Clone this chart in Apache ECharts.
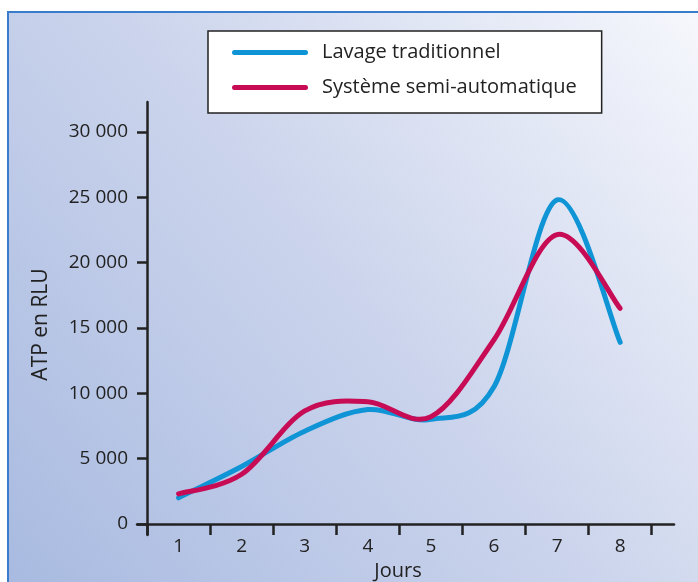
<!DOCTYPE html>
<html>
<head>
<meta charset="utf-8">
<script src="https://cdn.jsdelivr.net/npm/echarts@6/dist/echarts.min.js"></script>
<style>
  html, body { margin: 0; padding: 0; background: #ffffff; }
  #chart { width: 698px; height: 582px; }
</style>
</head>
<body>
<div id="chart"></div>
<script>
// Jours (x) and ATP readings in RLU for each washing method
const days = [1, 2, 3, 4, 5, 6, 7, 8];
const lavageTraditionnel = [2000, 4400, 7100, 8750, 8000, 10500, 24800, 13900];
const systemeSemiAuto = [2300, 3800, 8650, 9350, 8200, 14100, 22150, 16500];
const yTicks = [0, 5000, 10000, 15000, 20000, 25000, 30000];
const seriesNames = ['Lavage traditionnel', 'Système semi-automatique'];
const seriesColors = ['#0f94d6', '#c70b55'];

// Days sit in the middle of each band; band edges fall on whole numbers
const toBand = d => d - 0.5;
const bandEdges = [0].concat(days.map(d => d));
const pairs = vals => days.map((d, i) => [toBand(d), vals[i]]);

const fmtThousands = v => {
  if (v === 0) return '0';
  const s = String(v);
  return s.slice(0, s.length - 3) + ' ' + s.slice(-3);
};

// rounded bar used as the legend key
const capsule = 'path://M2.5,0 L73.5,0 A2.5,2.5 0 0 1 73.5,5 L2.5,5 A2.5,2.5 0 0 1 2.5,0 Z';

// Catmull-Rom curve through the points, mapped to pixels by the axes
function splineSeries(name, values, color, z) {
  const data = pairs(values);
  return {
    name: name,
    type: 'custom',
    z: z,
    itemStyle: { color: color },
    encode: { x: 0, y: 1 },
    data: data,
    renderItem: function (params, api) {
      if (params.dataIndex !== 0) return null;
      const p = data.map(d => api.coord(d));
      const n = p.length;
      let d = 'M' + p[0][0] + ',' + p[0][1];
      for (let i = 0; i < n - 1; i++) {
        const p0 = p[Math.max(i - 1, 0)];
        const p1 = p[i];
        const p2 = p[i + 1];
        const p3 = p[Math.min(i + 2, n - 1)];
        const c1x = p1[0] + (p2[0] - p0[0]) / 6;
        const c1y = p1[1] + (p2[1] - p0[1]) / 6;
        const c2x = p2[0] - (p3[0] - p1[0]) / 6;
        const c2y = p2[1] - (p3[1] - p1[1]) / 6;
        d += ' C' + c1x + ',' + c1y + ' ' + c2x + ',' + c2y + ' ' + p2[0] + ',' + p2[1];
      }
      return {
        type: 'path',
        shape: { pathData: d },
        style: { fill: 'none', stroke: color, lineWidth: 5, lineCap: 'round', lineJoin: 'round' }
      };
    }
  };
}

const FONT = 'Open Sans';
const chart = echarts.init(document.getElementById('chart'), null, { renderer: 'canvas' });

chart.setOption({
  animation: false,
  backgroundColor: '#ffffff',
  graphic: [{
    type: 'rect',
    z: -10,
    shape: { x: 8, y: 12, width: 720, height: 600 },
    style: {
      fill: new echarts.graphic.LinearGradient(0, 1, 1, 0, [
        { offset: 0, color: '#a7b9e0' },
        { offset: 0.5, color: '#cbd4ec' },
        { offset: 1, color: '#f8f9fd' }
      ]),
      stroke: '#3a7ccc',
      lineWidth: 2
    }
  }],
  grid: { left: 137, right: 24, top: 102, bottom: 47, containLabel: false, outerBoundsMode: 'none' },
  legend: {
    data: seriesNames,
    orient: 'vertical',
    left: 208,
    top: 31,
    padding: [11, 25, 15, 24],
    itemGap: 14,
    itemWidth: 76,
    itemHeight: 5,
    icon: capsule,
    backgroundColor: '#ffffff',
    borderColor: '#222222',
    borderWidth: 1.5,
    textStyle: { fontFamily: FONT, fontSize: 20, lineHeight: 21, color: '#222222', padding: [0, 0, 0, 9] }
  },
  xAxis: {
    type: 'value',
    min: -0.159,
    max: 8.353,
    name: 'Jours',
    nameLocation: 'middle',
    nameGap: 26,
    nameTextStyle: { fontFamily: FONT, fontSize: 20, color: '#222222', padding: [0, 15, 0, 0] },
    axisLine: { onZero: true, lineStyle: { color: '#222222', width: 2.5 } },
    axisTick: { show: true, length: 11, customValues: bandEdges, lineStyle: { color: '#222222', width: 2.5 } },
    axisLabel: {
      customValues: days.map(toBand),
      formatter: v => String(Math.round(v + 0.5)),
      margin: 2,
      fontFamily: FONT, fontSize: 19, color: '#222222'
    },
    splitLine: { show: false }
  },
  yAxis: {
    type: 'value',
    min: -850,
    max: 32300,
    name: 'ATP en RLU',
    nameLocation: 'middle',
    nameGap: 85,
    nameRotate: 90,
    nameTextStyle: { fontFamily: FONT, fontSize: 21, color: '#222222', padding: [0, 12, 0, 0] },
    axisLine: { onZero: true, lineStyle: { color: '#222222', width: 2.5 } },
    axisTick: { show: true, length: 10, customValues: yTicks, lineStyle: { color: '#222222', width: 2.5 } },
    axisLabel: {
      customValues: yTicks,
      formatter: v => fmtThousands(v),
      margin: 9,
      fontFamily: FONT, fontSize: 19, color: '#222222'
    },
    splitLine: { show: false }
  },
  series: [
    splineSeries(seriesNames[0], lavageTraditionnel, seriesColors[0], 3),
    splineSeries(seriesNames[1], systemeSemiAuto, seriesColors[1], 4)
  ]
});
</script>
</body>
</html>
